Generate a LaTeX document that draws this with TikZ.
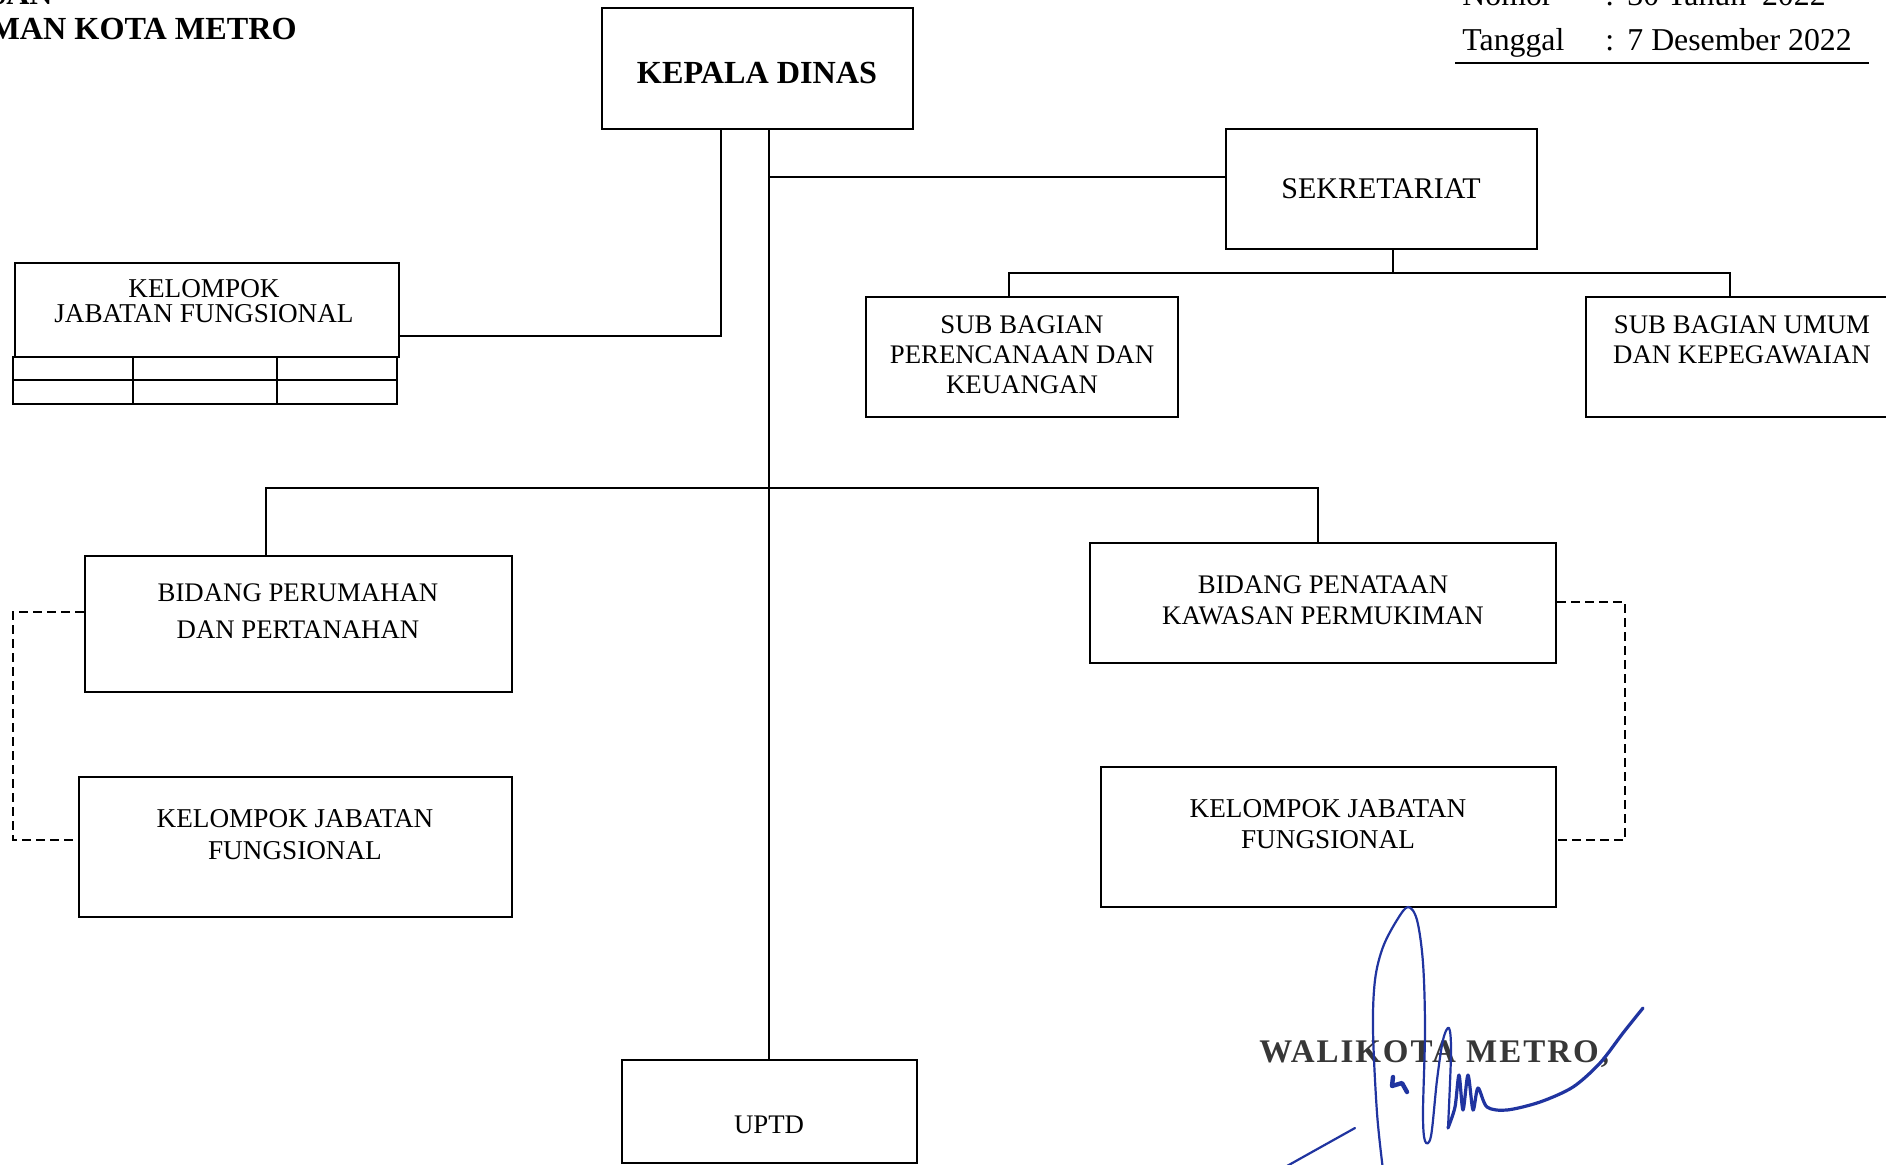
\documentclass[tikz,border=0pt]{standalone}
\usepackage{fontspec}
\setmainfont{Liberation Serif}
\newfontfamily\walifont[LetterSpace=6]{Liberation Serif}
\definecolor{sigblue}{RGB}{32,52,160}
\definecolor{waligray}{RGB}{55,55,55}
\newcommand{\mkbox}[5]{\node[orgbox, minimum width={(#4-#2)*0.5pt}, minimum height={(#5-#3)*0.5pt}] (#1) at ({(#2+#4)/2},{(#3+#5)/2}) {};}
\begin{document}
\begin{tikzpicture}[x=0.5pt,y=-0.5pt,
  orgbox/.style={draw, line width=1.1pt, inner sep=0pt},
  lbl/.style={anchor=base, inner sep=0pt, font=\fontsize{13.4}{15}\selectfont},
  hdr/.style={anchor=base, inner sep=0pt, font=\bfseries\fontsize{16.1}{18}\selectfont},
  meta/.style={anchor=base west, inner sep=0pt, font=\fontsize{15.9}{17}\selectfont},
  conn/.style={line width=1pt},
  dconn/.style={line width=1pt, dash pattern=on 4.5pt off 2.5pt},
  sig/.style={draw=sigblue, line width=1.1pt, line cap=round, line join=round}]
\fill[white] (0,0) rectangle (1886,1164);
\useasboundingbox (0,0) rectangle (1886,1164);

% title (cut at the page edge)
\node[anchor=base east, inner sep=0pt, font=\bfseries\fontsize{16}{18}\selectfont] (ttl1) at (53,4) {KAWASAN};
\node[anchor=base east, inner sep=0pt, font=\bfseries\fontsize{16.1}{18}\selectfont] (ttl2) at (297,39) {PERMUKIMAN KOTA METRO};

% nomor / tanggal
\node[meta] (nom) at (1462,5) {Nomor};
\node[meta] (nomc) at (1605,5) {:};
\node[meta] (nomv) at (1627,5) {30 Tahun\ \ 2022};
\node[meta] (tgl) at (1462,50) {Tanggal};
\node[meta] (tglc) at (1605,50) {:};
\node[meta] (tglv) at (1627,50) {7 Desember 2022};
\draw[line width=1pt] (1455,63) -- (1869,63);

% boxes
\mkbox{kd}{602}{8}{913}{129}
\mkbox{sek}{1226}{129}{1537}{249}
\mkbox{kjfa}{15}{263}{399}{357}
\mkbox{sbp}{866}{297}{1178}{417}
\mkbox{sbu}{1586}{297}{1910}{417}
\mkbox{bpp}{85}{556}{512}{692}
\mkbox{bpk}{1090}{543}{1556}{663}
\mkbox{kjfb}{79}{777}{512}{917}
\mkbox{kjfc}{1101}{767}{1556}{907}
\mkbox{uptd}{622}{1060}{917}{1163}

% table under top-left box
\draw[line width=1.1pt] (13,357) rectangle (397,404);
\draw[line width=1.1pt] (13,380) -- (397,380);
\draw[line width=1.1pt] (133,357) -- (133,404);
\draw[line width=1.1pt] (277,357) -- (277,404);

% texts
\node[hdr] (kdT) at (757,83) {KEPALA DINAS};
\node[lbl, font=\fontsize{15}{17}\selectfont] (sekT) at (1381,198) {SEKRETARIAT};
\node[lbl, font=\fontsize{13.6}{15}\selectfont] (kjfaT1) at (204,297) {KELOMPOK};
\node[lbl, font=\fontsize{13.6}{15}\selectfont] (kjfaT2) at (204,322) {JABATAN FUNGSIONAL};
\node[lbl] (sbpT1) at (1022,333) {SUB BAGIAN};
\node[lbl] (sbpT2) at (1022,363) {PERENCANAAN DAN};
\node[lbl] (sbpT3) at (1022,393) {KEUANGAN};
\node[lbl] (sbuT1) at (1742,333) {SUB BAGIAN UMUM};
\node[lbl] (sbuT2) at (1742,363) {DAN KEPEGAWAIAN};
\node[lbl] (bppT1) at (298,601) {BIDANG PERUMAHAN};
\node[lbl] (bppT2) at (298,638) {DAN PERTANAHAN};
\node[lbl] (bpkT1) at (1323,593) {BIDANG PENATAAN};
\node[lbl] (bpkT2) at (1323,624) {KAWASAN PERMUKIMAN};
\node[lbl, font=\fontsize{13.6}{15}\selectfont] (kjfbT1) at (295,827) {KELOMPOK JABATAN};
\node[lbl, font=\fontsize{13.6}{15}\selectfont] (kjfbT2) at (295,859) {FUNGSIONAL};
\node[lbl, font=\fontsize{13.6}{15}\selectfont] (kjfcT1) at (1328,817) {KELOMPOK JABATAN};
\node[lbl, font=\fontsize{13.6}{15}\selectfont] (kjfcT2) at (1328,848) {FUNGSIONAL};
\node[lbl] (uptdT) at (769,1133) {UPTD};

% connectors
\coordinate (spine) at (769,0);
\coordinate (lft) at (721,336);
\coordinate (j1) at (769,177);
\coordinate (sekdrop) at (1393,273);
\coordinate (sbl) at (1009,273);
\coordinate (sbr) at (1730,273);
\coordinate (bl) at (266,488);
\coordinate (br) at (1318,488);
\coordinate (dl1) at (13,612);
\coordinate (dl2) at (13,840);
\coordinate (dr1) at (1625,602);
\coordinate (dr2) at (1625,840);

\draw[conn] (spine |- kd.south) -- (spine |- uptd.north);
\draw[conn] (lft |- kd.south) -- (lft) -- (lft -| kjfa.east);
\draw[conn] (j1) -- (j1 -| sek.west);
\draw[conn] (sekdrop |- sek.south) -- (sekdrop);
\draw[conn] (sbl |- sbp.north) -- (sbl) -- (sbr) -- (sbr |- sbu.north);
\draw[conn] (bl |- bpp.north) -- (bl) -- (br) -- (br |- bpk.north);
\draw[dconn] (dl1 -| bpp.west) -- (dl1) -- (dl2) -- (dl2 -| kjfb.west);
\draw[dconn] (dr1 -| bpk.east) -- (dr1) -- (dr2) -- (dr2 -| kjfc.east);

% signature block
\node[anchor=base west, inner sep=0pt, text=waligray, font=\walifont\bfseries\fontsize{16.5}{18}\selectfont] (wali) at (1259,1062) {WALIKOTA METRO,};
\draw[sig] plot[smooth, tension=0.55] coordinates {(1383,1170) (1377,1113) (1373,1030) (1375,980) (1383,947) (1397,920) (1408,907) (1417,920) (1423,963) (1425,1030) (1423,1113) (1425,1141) (1431,1136) (1437,1080) (1443,1040) (1449,1028) (1451,1053) (1448,1128)};
\draw[sig, line width=1.6pt] plot[smooth, tension=0.5] coordinates {(1448,1128) (1455,1107) (1459,1075) (1463,1110) (1468,1075) (1473,1110) (1478,1088) (1487,1107) (1507,1110) (1540,1102) (1573,1087) (1600,1063) (1623,1033) (1643,1008)};
\draw[sig, line width=2.2pt] (1393,1077) -- (1392,1086) -- (1402,1083) -- (1407,1092);
\draw[sig] (1287,1166) .. controls (1312,1152) .. (1355,1128);
\end{tikzpicture}
\end{document}
